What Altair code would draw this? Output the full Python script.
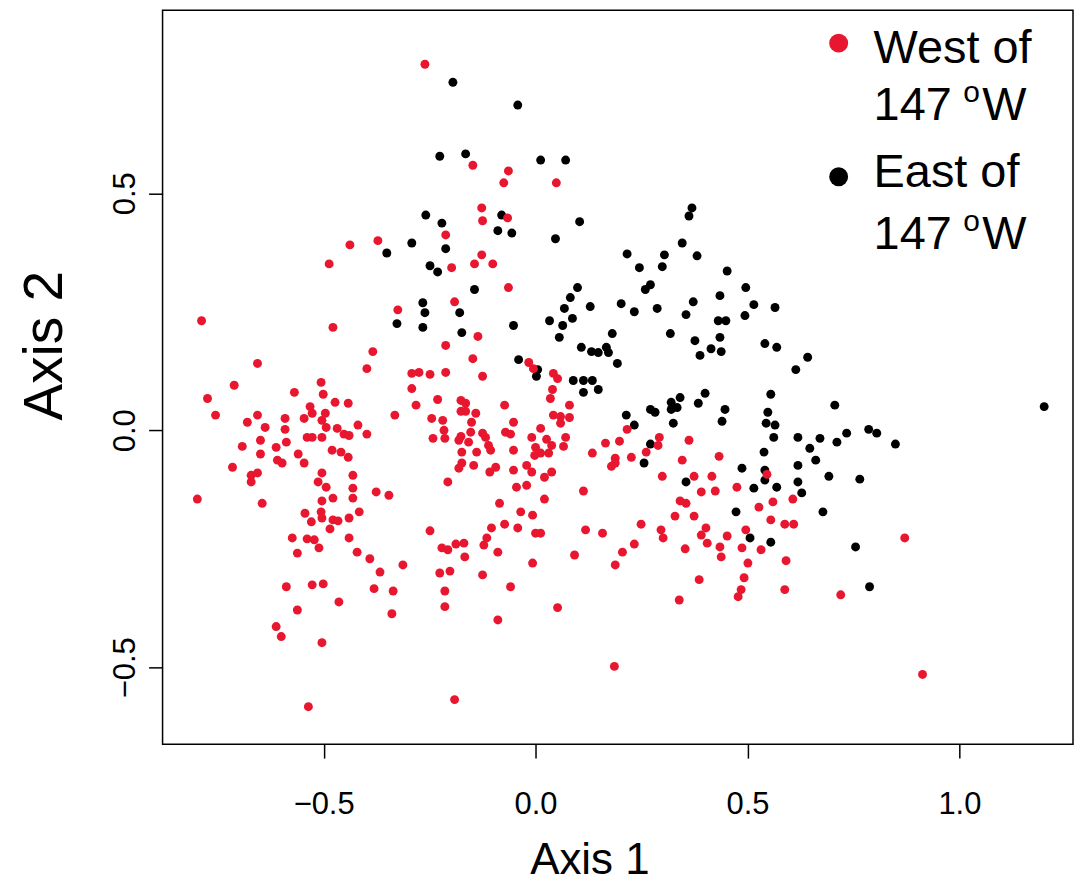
import altair as alt
import pandas as pd

# ---- data (Axis 1, Axis 2) ----
west_x = [-0.261,-0.148,-0.064,-0.075,0.049,-0.127,-0.066,-0.125,-0.212,-0.438,-0.372,-0.127,-0.198,-0.144,-0.101,-0.064,-0.487,
 -0.788,-0.478,-0.656,-0.711,-0.506,-0.569,-0.501,-0.774,-0.473,-0.442,-0.532,-0.527,-0.755,-0.656,-0.591,-0.546,-0.496,-0.504,-0.680,-0.638,-0.591,-0.494,-0.468,-0.419,-0.539,-0.527,-0.504,-0.452,-0.440,-0.649,-0.588,-0.692,-0.612,-0.649,-0.560,-0.480,-0.459,-0.442,
 -0.325,-0.191,-0.136,-0.384,-0.212,-0.148,-0.016,-0.005,-0.398,-0.292,-0.275,-0.249,-0.212,-0.125,-0.292,-0.231,-0.282,-0.176,-0.165,-0.176,-0.165,-0.141,-0.073,-0.332,-0.245,-0.219,-0.151,-0.052,-0.398,-0.242,-0.216,-0.214,-0.176,-0.153,-0.181,-0.158,-0.118,-0.111,-0.125,-0.071,-0.059,-0.009,0.000,-0.174,-0.139,-0.106,-0.052,-0.002,
 0.042,0.052,0.040,0.035,0.080,0.042,0.059,0.080,0.059,0.012,0.071,0.026,0.038,0.066,0.031,0.012,0.134,0.165,0.198,0.216,0.292,0.289,0.261,0.362,0.188,0.226,0.346,0.433,
 -0.715,-0.671,-0.656,-0.671,-0.598,-0.609,-0.546,-0.798,-0.645,-0.504,-0.513,-0.494,-0.431,-0.431,-0.431,-0.504,-0.478,-0.544,-0.529,-0.506,-0.504,-0.478,-0.466,-0.440,-0.416,-0.485,-0.574,-0.539,-0.522,-0.511,-0.440,-0.421,-0.562,-0.588,-0.527,-0.501,-0.464,-0.562,-0.612,-0.600,-0.504,-0.536,
 -0.174,-0.181,-0.146,-0.094,-0.108,-0.052,-0.021,-0.009,-0.207,-0.045,-0.021,-0.376,-0.346,-0.085,-0.035,-0.007,-0.249,-0.104,-0.073,-0.042,0.000,-0.115,-0.122,-0.089,-0.221,-0.207,-0.188,-0.169,-0.167,-0.391,-0.313,-0.367,-0.226,-0.202,-0.125,-0.007,-0.381,-0.336,-0.214,-0.059,-0.214,-0.339,-0.089,-0.191,
 0.188,0.179,0.299,0.374,0.416,0.391,0.424,0.341,0.355,0.329,0.374,0.038,0.021,0.113,0.021,0.249,0.296,0.301,0.402,0.391,0.405,0.353,0.118,0.158,0.012,0.233,0.205,0.092,0.188,0.386,0.339,0.052,0.186,
 0.546,0.475,0.527,0.560,0.607,0.555,0.588,0.609,0.496,0.452,0.435,0.438,0.487,0.532,0.501,0.591,0.871,0.492,0.485,0.478,0.588,0.720,0.913]
west_y = [0.772,0.559,0.547,0.522,0.522,0.469,0.448,0.442,0.412,0.391,0.400,0.370,0.343,0.351,0.351,0.301,0.351,
 0.231,0.217,0.141,0.095,0.101,0.080,0.076,0.067,0.059,0.057,0.050,0.036,0.032,0.032,0.025,0.025,0.036,0.021,0.017,0.006,0.002,0.006,0.004,0.011,-0.015,-0.015,-0.015,-0.008,-0.011,-0.021,-0.025,-0.034,-0.036,-0.050,-0.050,-0.042,-0.046,-0.057,
 0.254,0.271,0.198,0.166,0.179,0.151,0.143,0.130,0.130,0.120,0.122,0.118,0.122,0.114,0.088,0.065,0.053,0.063,0.057,0.040,0.040,0.036,0.053,0.032,0.025,0.021,0.017,0.017,-0.008,-0.017,0.000,-0.017,-0.013,-0.004,-0.021,-0.025,-0.015,-0.032,-0.006,-0.004,-0.008,-0.015,-0.036,-0.046,-0.046,-0.042,-0.042,-0.053,
 0.120,0.109,0.086,0.067,0.053,0.032,0.029,0.027,0.015,0.004,-0.015,-0.019,-0.032,-0.034,-0.048,-0.048,-0.048,-0.027,-0.023,0.002,-0.015,-0.032,-0.046,-0.021,-0.059,-0.057,-0.063,-0.055,
 -0.078,-0.095,-0.090,-0.109,-0.069,-0.063,-0.069,-0.145,-0.154,-0.090,-0.109,-0.120,-0.095,-0.122,-0.143,-0.149,-0.143,-0.175,-0.193,-0.172,-0.185,-0.189,-0.191,-0.185,-0.172,-0.208,-0.227,-0.229,-0.231,-0.248,-0.227,-0.257,-0.259,-0.330,-0.326,-0.324,-0.362,-0.379,-0.414,-0.435,-0.448,-0.583,
 -0.069,-0.080,-0.074,-0.078,-0.088,-0.084,-0.074,-0.088,-0.109,-0.120,-0.116,-0.130,-0.137,-0.154,-0.172,-0.179,-0.212,-0.206,-0.198,-0.206,-0.217,-0.227,-0.242,-0.257,-0.248,-0.252,-0.240,-0.238,-0.267,-0.271,-0.284,-0.299,-0.301,-0.297,-0.305,-0.280,-0.334,-0.339,-0.339,-0.330,-0.372,-0.387,-0.400,-0.568,
 -0.069,-0.076,-0.097,-0.097,-0.097,-0.130,-0.128,-0.149,-0.154,-0.181,-0.181,-0.088,-0.099,-0.128,-0.145,-0.198,-0.210,-0.227,-0.206,-0.221,-0.238,-0.250,-0.210,-0.217,-0.217,-0.240,-0.257,-0.263,-0.284,-0.315,-0.358,-0.374,-0.498,
 -0.093,-0.120,-0.162,-0.151,-0.145,-0.189,-0.198,-0.198,-0.210,-0.223,-0.246,-0.267,-0.248,-0.252,-0.280,-0.275,-0.227,-0.311,-0.336,-0.351,-0.336,-0.347,-0.515]

east_x = [-0.195,-0.042,-0.226,-0.165,0.012,-0.080,-0.259,-0.221,-0.089,-0.056,0.047,-0.292,-0.351,-0.212,-0.249,-0.231,-0.144,
 0.071,0.104,0.369,0.362,0.346,0.216,0.245,0.304,0.299,0.381,0.452,0.099,0.271,0.259,0.496,
 -0.266,-0.261,-0.179,-0.327,-0.266,-0.174,-0.052,-0.040,0.002,
 0.082,0.129,0.068,0.202,0.233,0.287,0.372,0.355,0.033,0.087,0.064,0.056,0.181,0.318,0.376,0.431,0.108,0.132,0.148,0.167,0.172,0.414,0.388,0.193,0.005,0.089,0.113,0.134,0.113,0.148,0.214,0.233,0.271,0.282,0.320,0.320,0.334,0.341,0.384,0.400,0.325,0.271,
 0.435,0.515,0.565,0.494,0.449,0.435,0.438,0.541,0.569,0.642,0.614,0.555,0.447,0.440,0.548,0.544,0.565,0.562,0.619,0.671,0.706,0.734,0.711,0.786,0.805,0.849,0.647,0.539,0.661,
 0.487,0.541,0.541,0.619,0.692,0.765,0.569,0.619,0.628,0.515,0.473,0.678,0.506,0.555,0.755,0.788,
 0.256,0.355,1.200]
east_y = [0.734,0.686,0.578,0.583,0.570,0.454,0.454,0.437,0.421,0.416,0.404,0.395,0.374,0.383,0.347,0.334,0.297,
 0.570,0.440,0.469,0.452,0.395,0.372,0.343,0.370,0.345,0.368,0.336,0.301,0.307,0.297,0.301,
 0.269,0.248,0.248,0.225,0.217,0.206,0.221,0.149,0.114,
 0.280,0.261,0.257,0.267,0.250,0.257,0.271,0.244,0.231,0.236,0.221,0.196,0.204,0.204,0.189,0.231,0.175,0.166,0.164,0.175,0.164,0.172,0.158,0.141,0.128,0.105,0.105,0.105,0.080,0.086,0.032,0.011,0.044,0.038,0.059,0.044,0.048,0.069,0.057,0.078,0.015,-0.029,
 0.284,0.265,0.259,0.242,0.231,0.196,0.166,0.183,0.175,0.154,0.128,0.076,0.044,0.019,0.038,0.015,0.011,-0.015,-0.015,-0.017,0.053,-0.006,-0.025,0.002,-0.006,-0.029,-0.038,-0.046,-0.063,
 -0.080,-0.084,-0.105,-0.074,-0.097,-0.103,-0.120,-0.109,-0.132,-0.122,-0.172,-0.172,-0.227,-0.236,-0.246,-0.330,
 -0.069,-0.109,0.050]

groups = ["West", "East"]
colors = ["#E8162E", "#000000"]
x_ticks = [-0.5, 0.0, 0.5, 1.0]
y_ticks = [-0.5, 0.0, 0.5]
x_domain = [-0.880, 1.268]
y_domain = [-0.662, 0.886]

df = pd.DataFrame({
    "axis1": west_x + east_x,
    "axis2": west_y + east_y,
    "group": ["West"] * len(west_x) + ["East"] * len(east_x),
    "ord": [2] * len(west_x) + [1] * len(east_x),
})

FONT = "Liberation Sans"

points = alt.Chart(df).mark_circle(size=80, opacity=1).encode(
    x=alt.X("axis1:Q", scale=alt.Scale(domain=x_domain, nice=False, zero=False),
            axis=alt.Axis(values=x_ticks, format=".1f", title="Axis 1", grid=False, domain=False,
                          labelFontSize=31, labelBaseline="alphabetic", labelPadding=56,
                          labelFlush=False, labelOverlap=False,
                          tickSize=14, tickWidth=1.5, tickColor="black",
                          labelColor="black", labelFont=FONT,
                          titleFont=FONT, titleFontWeight="normal", titleColor="black",
                          titleFontSize=44, titleAlign="center", titleBaseline="alphabetic",
                          titleX=428, titleY=130)),
    y=alt.Y("axis2:Q", scale=alt.Scale(domain=y_domain, nice=False, zero=False),
            axis=alt.Axis(values=y_ticks, format=".1f", title="Axis 2", grid=False, domain=False,
                          labelFontSize=31, labelAngle=270, labelAlign="center",
                          labelBaseline="alphabetic", labelPadding=14,
                          labelFlush=False, labelOverlap=False,
                          tickSize=14, tickWidth=1.5, tickColor="black",
                          labelColor="black", labelFont=FONT,
                          titleFont=FONT, titleFontWeight="normal", titleColor="black",
                          titleFontSize=55, titleAngle=270, titleAlign="center",
                          titleBaseline="alphabetic", titleX=-101, titleY=336)),
    color=alt.Color("group:N", scale=alt.Scale(domain=groups, range=colors), legend=None),
    order=alt.Order("ord:Q"),
)

one = pd.DataFrame({"k": [0]})
LEG_FS = 47
SUP_FS = 30

def txt(s, x, y, fs=LEG_FS):
    return alt.Chart(one).mark_text(text=s, align="left", baseline="alphabetic",
                                    font=FONT, fontSize=fs, color="black").encode(
        x=alt.value(x), y=alt.value(y))

def dot(color, x, y):
    return alt.Chart(one).mark_circle(size=360, opacity=1, color=color).encode(
        x=alt.value(x), y=alt.value(y))

legend_layers = [
    dot(colors[0], 678, 33),
    txt("West of", 713, 53),
    txt("147", 713, 110),
    txt("o", 803, 92, SUP_FS),
    txt("W", 822, 110),
    dot(colors[1], 678, 167),
    txt("East of", 713, 177),
    txt("147", 713, 239),
    txt("o", 803, 221, SUP_FS),
    txt("W", 822, 239),
]

chart = alt.layer(points, *legend_layers).properties(
    width=913, height=736,
    padding={"left": 155, "top": 1, "right": 1, "bottom": 137},
    autosize=alt.AutoSizeParams(type="none"),
    background="white",
).configure_view(
    stroke="black", strokeWidth=1.5
)

chart.save("out.html", embed_options={"renderer": "svg", "actions": False})
